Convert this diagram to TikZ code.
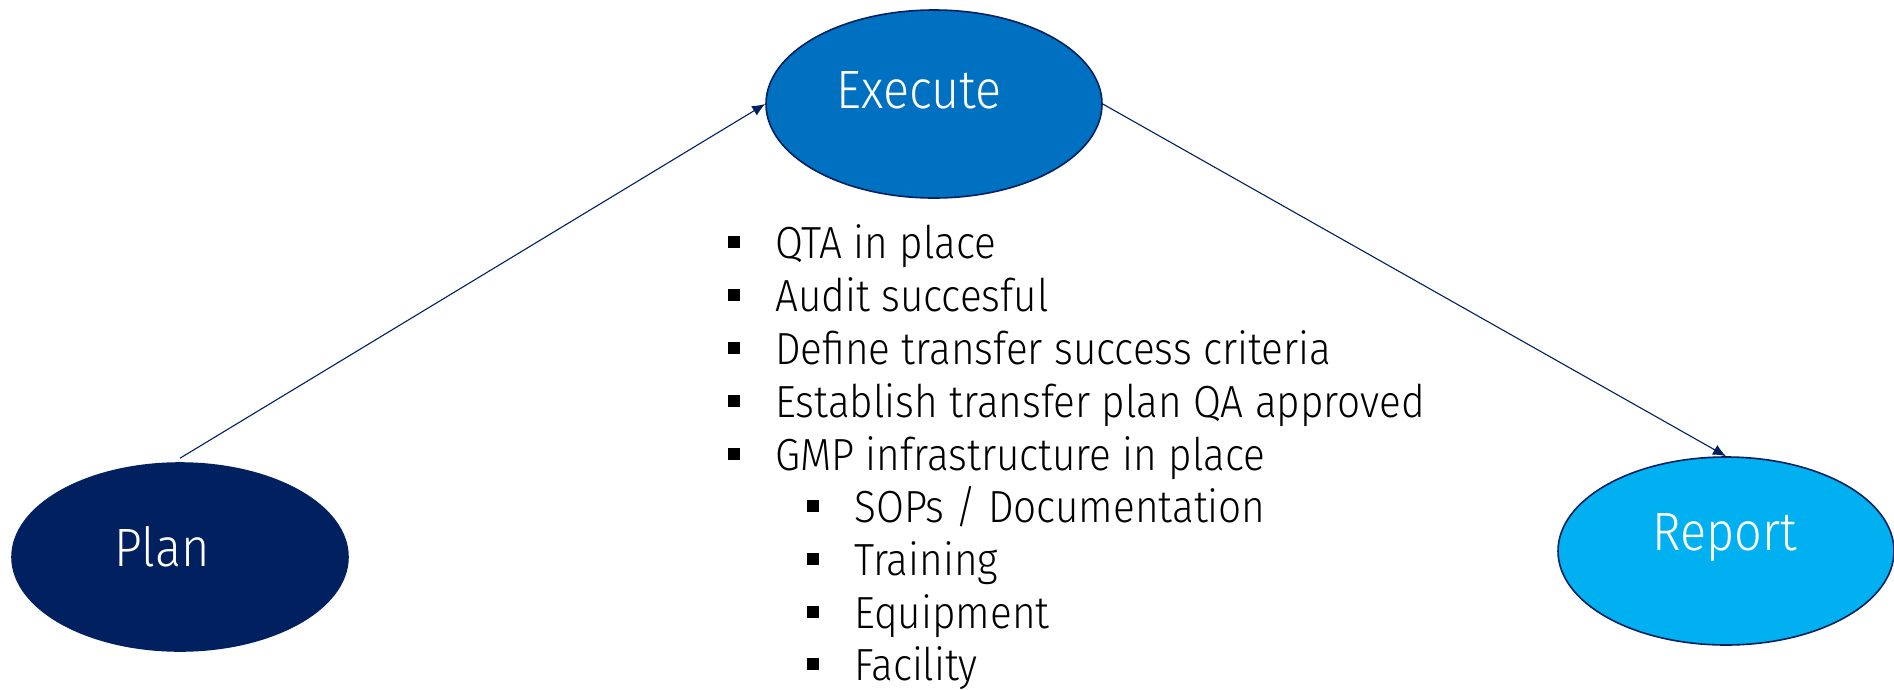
\documentclass[tikz,border=0pt]{standalone}
\usepackage{fontspec}
\setmainfont{Fira Sans}[UprightFont={* Light}, FakeStretch=0.9]
\usetikzlibrary{shapes.geometric,arrows.meta}
\definecolor{navy}{HTML}{002060}
\definecolor{midblue}{HTML}{0070C0}
\definecolor{lightblue}{HTML}{00B0F0}
\pgfdeclarelayer{background}
\pgfsetlayers{background,main}
\tikzset{
  oval/.style={ellipse, draw=navy, line width=1.6pt, minimum width=336pt, minimum height=188pt, inner sep=0pt},
  lbl/.style={text=white, font=\fontsize{54}{60}\selectfont, inner sep=0pt, anchor=base},
  conn/.style={draw=navy, line width=1.1pt, -{Latex[length=13pt,width=11pt]}},
  itemA/.style={anchor=base west, inner sep=0pt, font=\fontsize{45}{52}\selectfont},
}
\newcommand{\bulletA}{\makebox[47pt][l]{\rule[10pt]{12pt}{12pt}}}
\begin{document}
\begin{tikzpicture}[x=1pt,y=-1pt]
\useasboundingbox (0,0) rectangle (1894,689);
\node[oval, fill=navy] (plan) at (180,557) {};
\node[oval, fill=midblue] (exec) at (934,104) {};
\node[oval, fill=lightblue] (report) at (1726,551) {};
\node[lbl] (planlbl) at (162,566) {Plan};
\node[lbl] (execlbl) at (919,108) {Execute};
\node[lbl] (reportlbl) at (1725,550) {Report};
\begin{pgfonlayer}{background}
\draw[conn] ([yshift=4pt]plan.north) -- (exec.west);
\draw[conn] (exec.east) -- (report.north);
\end{pgfonlayer}
\node[itemA] (i1) at (728,258) {\bulletA QTA in place};
\node[itemA] (i2) at (728,311) {\bulletA Audit succesful};
\node[itemA] (i3) at (728,364) {\bulletA Define transfer success criteria};
\node[itemA] (i4) at (728,417) {\bulletA Establish transfer plan QA approved};
\node[itemA] (i5) at (728,470) {\bulletA GMP infrastructure in place};
\node[itemA] (s1) at (807,522) {\bulletA SOPs / Documentation};
\node[itemA] (s2) at (807,575) {\bulletA Training};
\node[itemA] (s3) at (807,628) {\bulletA Equipment};
\node[itemA] (s4) at (807,680) {\bulletA Facility};
\end{tikzpicture}
\end{document}
